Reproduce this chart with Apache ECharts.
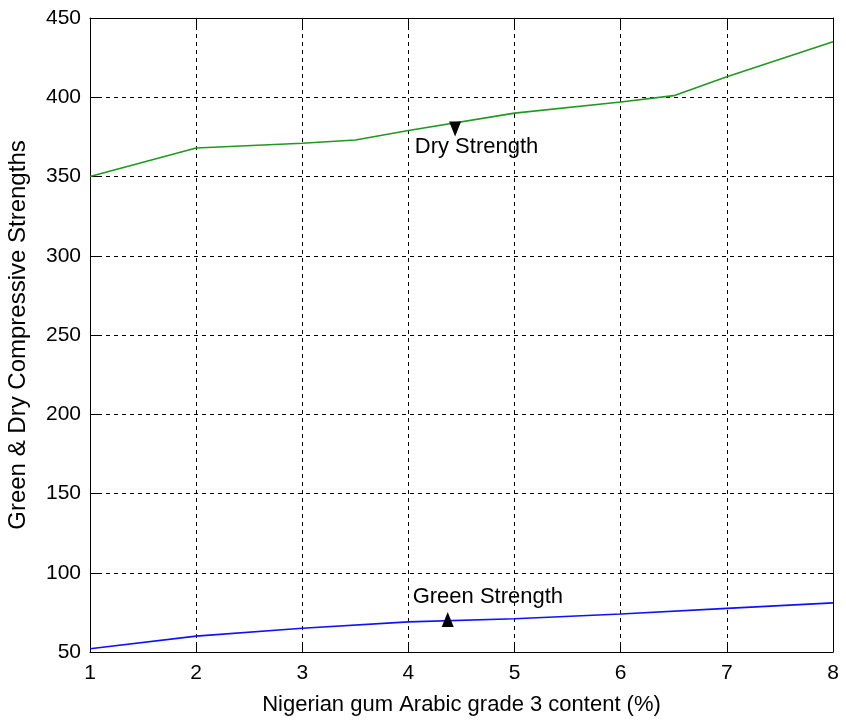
<!DOCTYPE html>
<html>
<head>
<meta charset="utf-8">
<script src="https://cdn.jsdelivr.net/npm/echarts@6/dist/echarts.min.js"></script>
<style>
  html, body { margin: 0; padding: 0; background: #fff; }
  #chart { width: 846px; height: 720px; }
</style>
</head>
<body>
<div id="chart"></div>
<script>
// Gum arabic content (%) and the measured strengths
const content = [1, 2, 3, 3.5, 4, 5, 6, 6.5, 7, 8];
const dryStrength = [350, 368, 371, 373, 379, 390, 397, 401, 413, 435];
const greenContent = [1, 2, 3, 4, 5, 6, 7, 8];
const greenStrength = [52, 60, 65, 69, 71, 74, 77.5, 81];

// Annotation markers and their captions
const dryMarker = [4.44, 380];
const greenMarker = [4.37, 70.5];
const dryCaption = { x: 4.06, y: 368.5, text: 'Dry Strength' };
const greenCaption = { x: 4.04, y: 84.7, text: 'Green Strength' };

const xTicks = [1, 2, 3, 4, 5, 6, 7, 8];
const yTicks = [50, 100, 150, 200, 250, 300, 350, 400, 450];

const font = 'Liberation Sans, Arial, sans-serif';
const fontSize = 21;
const chart = echarts.init(document.getElementById('chart'));

const gridLine = { show: true, lineStyle: { color: '#000', type: [4, 4], width: 1 } };
const axisLine = { show: true, lineStyle: { color: '#000', width: 1 } };
const tick = { show: true, inside: true, length: 8, lineStyle: { color: '#000' } };

chart.setOption({
  animation: false,
  backgroundColor: '#fff',
  grid: { left: 90, right: 13, top: 18, bottom: 68, containLabel: false, outerBoundsMode: 'none' },
  xAxis: [{
    type: 'value', min: xTicks[0], max: xTicks[xTicks.length - 1], interval: 1,
    name: 'Nigerian gum Arabic grade 3 content (%)',
    nameLocation: 'middle', nameGap: 42,
    nameTextStyle: { fontFamily: font, fontSize: 22, color: '#000' },
    axisLine: axisLine, axisTick: tick,
    axisLabel: { fontFamily: font, fontSize: fontSize, color: '#000', margin: 11 },
    splitLine: gridLine
  }, {
    type: 'value', position: 'top', min: 1, max: 8, interval: 1,
    axisLine: axisLine, axisTick: tick,
    axisLabel: { show: false }, splitLine: { show: false }
  }],
  yAxis: [{
    type: 'value', min: yTicks[0], max: yTicks[yTicks.length - 1], interval: 50,
    name: 'Green & Dry Compressive Strengths',
    nameLocation: 'middle', nameGap: 60,
    nameTextStyle: { fontFamily: font, fontSize: 24, color: '#000' },
    axisLine: axisLine, axisTick: tick,
    axisLabel: { fontFamily: font, fontSize: fontSize, color: '#000', margin: 9 },
    splitLine: gridLine
  }, {
    type: 'value', position: 'right', min: 50, max: 450, interval: 50,
    axisLine: axisLine, axisTick: tick,
    axisLabel: { show: false }, splitLine: { show: false }
  }],
  series: [{
    name: 'Dry Strength', type: 'line', showSymbol: false,
    data: content.map((c, i) => [c, dryStrength[i]]),
    lineStyle: { color: '#1f9a1f', width: 1.6 }, z: 3
  }, {
    name: 'Green Strength', type: 'line', showSymbol: false,
    data: greenContent.map((c, i) => [c, greenStrength[i]]),
    lineStyle: { color: '#1010ff', width: 1.6 }, z: 3
  }, {
    type: 'scatter', symbol: 'triangle', symbolRotate: 180, symbolSize: [12, 15],
    itemStyle: { color: '#000', opacity: 1 }, data: [dryMarker], z: 4
  }, {
    type: 'scatter', symbol: 'triangle', symbolSize: [12, 15],
    itemStyle: { color: '#000', opacity: 1 }, data: [greenMarker], z: 4
  }, {
    type: 'scatter', symbolSize: 0, z: 5,
    itemStyle: { opacity: 1 },
    data: [[dryCaption.x, dryCaption.y, dryCaption.text], [greenCaption.x, greenCaption.y, greenCaption.text]],
    label: {
      show: true, position: 'right', distance: 0,
      formatter: p => p.data[2],
      fontFamily: font, fontSize: 22, color: '#000'
    }
  }]
});
</script>
</body>
</html>
